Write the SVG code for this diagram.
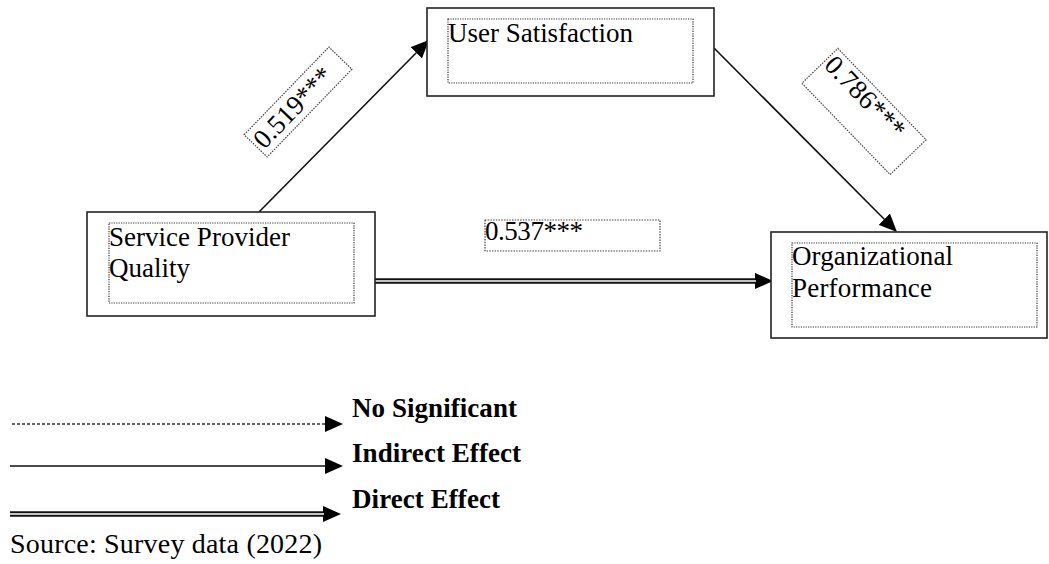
<svg xmlns="http://www.w3.org/2000/svg" width="1049" height="564" viewBox="0 0 1049 564">
  <style>
    text { font-family: 'Liberation Serif', serif; fill: #000; }
    .lbl { font-size: 27px; }
    .src { font-size: 28px; }
    .leg { font-size: 27px; font-weight: bold; }
    .box { fill: #fff; stroke: #222; stroke-width: 1.6; }
    .inner { fill: none; stroke: #333; stroke-width: 1.2; stroke-dasharray: 1.2 1.2; }
    .coef { fill: #fff; stroke: #444; stroke-width: 1.2; stroke-dasharray: 1.5 1.2; }
    .solid { fill: none; stroke: #111; stroke-width: 1.6; }
    .dash { fill: none; stroke: #333; stroke-width: 1.4; stroke-dasharray: 3 2; }
    .dbl-outer { fill: none; stroke: #111; stroke-width: 5.5; }
    .dbl-inner { fill: none; stroke: #fff; stroke-width: 1.6; }
  </style>
  <defs>
    <marker id="head" viewBox="0 0 18 16" refX="0" refY="8" markerWidth="18" markerHeight="16" markerUnits="userSpaceOnUse" orient="auto">
      <path d="M0,0 L18,8 L0,16 Z" fill="#000"/>
    </marker>
  </defs>

  <!-- connectors -->
  <g id="connectors">
    <line class="solid" x1="259" y1="212" x2="416.3" y2="52.8" marker-end="url(#head)"/>
    <line class="solid" x1="714" y1="48" x2="884.3" y2="219.2" marker-end="url(#head)"/>
    <line class="dbl-outer" x1="375" y1="281" x2="755" y2="281" marker-end="url(#head)"/>
    <line class="dbl-inner" x1="375" y1="281" x2="756" y2="281"/>
  </g>

  <!-- path coefficients -->
  <g id="coef-spq-us" transform="translate(298,102) rotate(-46)">
    <rect class="coef" x="-61" y="-16" width="122" height="32"/>
    <text class="lbl" x="-58" y="9" textLength="101" lengthAdjust="spacing">0.519***</text>
  </g>
  <g id="coef-us-op" transform="translate(864,111.5) rotate(46)">
    <rect class="coef" x="-63.5" y="-25" width="127" height="50"/>
    <text class="lbl" x="-61" y="-2" textLength="103" lengthAdjust="spacing">0.786***</text>
  </g>
  <g id="coef-spq-op">
    <rect class="coef" x="485" y="220" width="175" height="31"/>
    <text class="lbl" x="485" y="240" textLength="98" lengthAdjust="spacing">0.537***</text>
  </g>

  <!-- nodes -->
  <g id="node-user-satisfaction">
    <rect class="box" x="427" y="8" width="287" height="88"/>
    <rect class="inner" x="448" y="19" width="245" height="64"/>
    <text class="lbl" x="448" y="42" textLength="185" lengthAdjust="spacing">User Satisfaction</text>
  </g>
  <g id="node-service-provider-quality">
    <rect class="box" x="87" y="212" width="288" height="104"/>
    <rect class="inner" x="109" y="223" width="245" height="80"/>
    <text class="lbl" x="109" y="246" textLength="181" lengthAdjust="spacing">Service Provider</text>
    <text class="lbl" x="109" y="277" textLength="81" lengthAdjust="spacing">Quality</text>
  </g>
  <g id="node-organizational-performance">
    <rect class="box" x="771" y="232" width="276" height="106"/>
    <rect class="inner" x="792" y="243" width="245" height="84"/>
    <text class="lbl" x="792" y="265" textLength="161" lengthAdjust="spacing">Organizational</text>
    <text class="lbl" x="792" y="297" textLength="140" lengthAdjust="spacing">Performance</text>
  </g>

  <!-- legend -->
  <g id="legend">
    <line class="dash" x1="12" y1="424" x2="325" y2="424" marker-end="url(#head)"/>
    <text class="leg" x="352" y="417" textLength="165" lengthAdjust="spacing">No Significant</text>
    <line class="solid" x1="10" y1="466" x2="325" y2="466" marker-end="url(#head)"/>
    <text class="leg" x="352" y="462" textLength="169" lengthAdjust="spacing">Indirect Effect</text>
    <line class="dbl-outer" x1="10" y1="514" x2="323" y2="514" marker-end="url(#head)"/>
    <line class="dbl-inner" x1="10" y1="514" x2="324" y2="514"/>
    <text class="leg" x="352" y="508" textLength="148" lengthAdjust="spacing">Direct Effect</text>
  </g>
  <g id="source">
    <text class="src" x="10" y="553" textLength="312" lengthAdjust="spacing">Source: Survey data (2022)</text>
  </g>
</svg>
